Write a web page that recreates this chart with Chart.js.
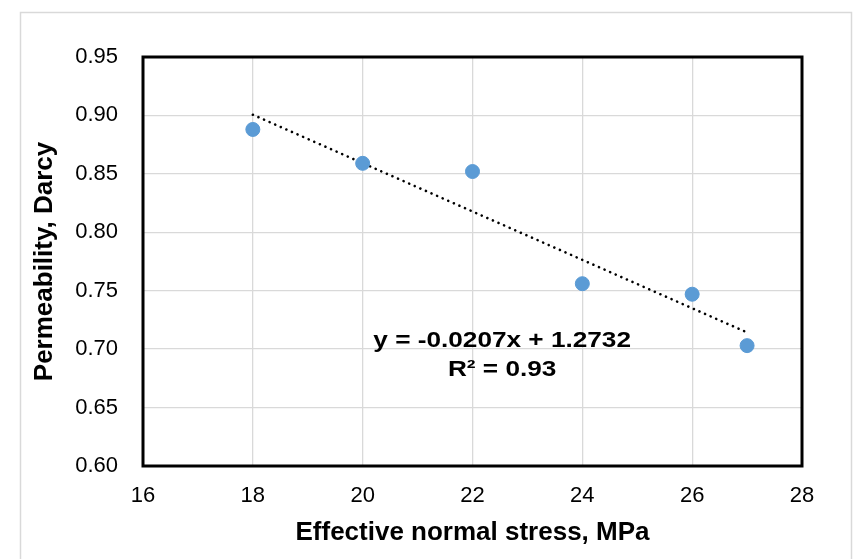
<!DOCTYPE html>
<html>
<head>
<meta charset="utf-8">
<script src="https://cdn.jsdelivr.net/npm/chart.js@4"></script>
<style>
  html, body { margin: 0; padding: 0; background: #fff; }
  #wrap { width: 856px; height: 559px; position: relative; }
</style>
</head>
<body>
<div id="wrap"><canvas id="c" width="856" height="559"></canvas></div>
<script>
const stressMPa = [18, 20, 22, 24, 26, 27];
const permeabilityDarcy = [0.888, 0.859, 0.852, 0.756, 0.747, 0.703];
const trendX = [18, 27];
const trendY = [0.9006, 0.7143];
const xTicks = [16, 18, 20, 22, 24, 26, 28];
const yTicks = [0.60, 0.65, 0.70, 0.75, 0.80, 0.85, 0.90, 0.95];
const equationLines = ['y = -0.0207x + 1.2732', 'R\u00B2 = 0.93'];

const FONT = "'Liberation Sans', Arial, sans-serif";

const framePlugin = {
  id: 'frame',
  beforeDraw(chart) {
    const ctx = chart.ctx;
    ctx.save();
    ctx.fillStyle = '#fff';
    ctx.fillRect(0, 0, chart.width, chart.height);
    ctx.strokeStyle = '#d9d9d9';
    ctx.lineWidth = 1.5;
    ctx.strokeRect(20.5, 12.5, 831, 560);
    ctx.restore();
  },
  afterDatasetsDraw(chart) {
    const ctx = chart.ctx;
    const a = chart.chartArea;
    ctx.save();
    ctx.strokeStyle = '#000';
    ctx.lineWidth = 3;
    ctx.strokeRect(a.left, a.top, a.right - a.left, a.bottom - a.top);
    ctx.restore();
    // equation label (slightly wide, as in the reference)
    const xs = chart.scales.x, ys = chart.scales.y;
    const cx = xs.getPixelForValue(22.54);
    const lines = [[equationLines[0], 0.7074], [equationLines[1], 0.6826]];
    lines.forEach(([txt, yv]) => {
      ctx.save();
      ctx.translate(cx, ys.getPixelForValue(yv));
      ctx.scale(1.19, 1);
      ctx.fillStyle = '#000';
      ctx.font = "bold 22px " + FONT;
      ctx.textAlign = 'center';
      ctx.textBaseline = 'middle';
      ctx.fillText(txt, 0, 0);
      ctx.restore();
    });
  }
};

new Chart(document.getElementById('c'), {
  type: 'scatter',
  data: {
    datasets: [
      {
        type: 'line',
        label: 'Trend',
        data: trendX.map((x, i) => ({ x: x, y: trendY[i] })),
        borderColor: '#000',
        borderWidth: 2.6,
        borderDash: [0.1, 6],
        borderCapStyle: 'round',
        pointRadius: 0,
        fill: false,
        order: 2
      },
      {
        label: 'Permeability',
        data: stressMPa.map((x, i) => ({ x: x, y: permeabilityDarcy[i] })),
        backgroundColor: '#5B9BD5',
        borderColor: '#5B9BD5',
        pointRadius: 7,
        pointHoverRadius: 7,
        order: 1
      }
    ]
  },
  options: {
    responsive: false,
    animation: false,
    devicePixelRatio: 1,
    layout: { padding: { top: 57, right: 54, left: 0, bottom: 0 } },
    plugins: { legend: { display: false }, tooltip: { enabled: false } },
    scales: {
      x: {
        type: 'linear',
        min: 16, max: 28,
        afterBuildTicks(scale) { scale.ticks = xTicks.map(v => ({ value: v })); },
        afterFit(scale) { scale.height = 93; },
        grid: { color: '#d9d9d9', lineWidth: 1.3, drawTicks: false },
        border: { display: false },
        ticks: { color: '#000', font: { family: FONT, size: 22 }, padding: 17, maxRotation: 0 },
        title: { display: true, text: 'Effective normal stress, MPa', color: '#000',
                 font: { family: FONT, size: 26, weight: 'bold' }, padding: { top: 0, bottom: 11 } }
      },
      y: {
        type: 'linear',
        min: 0.60, max: 0.95,
        afterBuildTicks(scale) { scale.ticks = yTicks.map(v => ({ value: v })); },
        afterFit(scale) { scale.width = 143; },
        grid: { color: '#d9d9d9', lineWidth: 1.3, drawTicks: false },
        border: { display: false },
        ticks: { color: '#000', font: { family: FONT, size: 22 }, padding: 25,
                 callback: v => Number(v).toFixed(2) },
        title: { display: true, text: 'Permeability, Darcy', color: '#000',
                 font: { family: FONT, size: 26, weight: 'bold' }, padding: { top: 29, bottom: 0 } }
      }
    }
  },
  plugins: [framePlugin]
});
</script>
</body>
</html>
